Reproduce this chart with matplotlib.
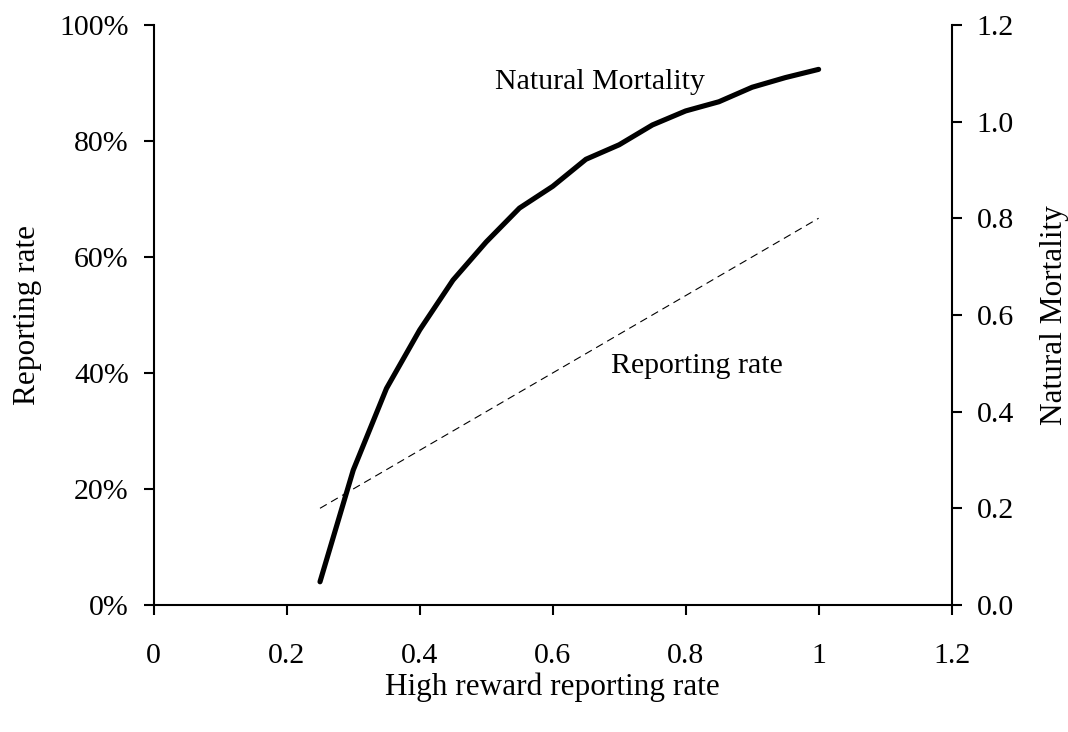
import matplotlib
matplotlib.use("Agg")
import matplotlib.pyplot as plt
from matplotlib.ticker import FuncFormatter

plt.rcParams["font.family"] = ["Liberation Serif", "DejaVu Serif"]

high_reward = [0.25, 0.30, 0.35, 0.40, 0.45, 0.50, 0.55, 0.60, 0.65,
               0.70, 0.75, 0.80, 0.85, 0.90, 0.95, 1.00]
natural_mortality = [0.048, 0.279, 0.448, 0.569, 0.672, 0.751, 0.821, 0.866, 0.922,
                     0.952, 0.993, 1.022, 1.041, 1.071, 1.091, 1.108]
reporting_rate = [0.1667, 0.2000, 0.2333, 0.2667, 0.3000, 0.3333, 0.3667, 0.4000, 0.4333,
                  0.4667, 0.5000, 0.5333, 0.5667, 0.6000, 0.6333, 0.6667]

x_ticks = [0, 0.2, 0.4, 0.6, 0.8, 1.0, 1.2]
x_labels = ["0", "0.2", "0.4", "0.6", "0.8", "1", "1.2"]

fig = plt.figure(figsize=(10.68, 7.32), dpi=100)
ax = fig.add_axes([0.144, 0.1735, 0.747, 0.7925])
ax2 = ax.twinx()

ax.plot(high_reward, reporting_rate, color="black", lw=0.8, ls=(0, (7, 4.5)))
ax2.plot(high_reward, natural_mortality, color="black", lw=3.7,
         solid_capstyle="round", solid_joinstyle="round")

ax.set_xlim(0, 1.2)
ax.set_ylim(0, 1.0)
ax2.set_ylim(0, 1.2)
ax.set_xticks(x_ticks)
ax.set_xticklabels(x_labels)
ax.set_yticks([0, 0.2, 0.4, 0.6, 0.8, 1.0])
ax.yaxis.set_major_formatter(FuncFormatter(lambda v, p: f"{v * 100:.0f}%"))
ax2.set_yticks([0, 0.2, 0.4, 0.6, 0.8, 1.0, 1.2])
ax2.yaxis.set_major_formatter(FuncFormatter(lambda v, p: f"{v:.1f}"))

for a in (ax, ax2):
    a.spines["top"].set_visible(False)
    for s in ("left", "right", "bottom"):
        a.spines[s].set_linewidth(1.5)
    a.tick_params(direction="out", length=7, width=1.5, labelsize=21.5)
ax.tick_params(axis="x", pad=20.5)
ax.tick_params(axis="y", pad=11)
ax2.tick_params(axis="y", pad=11)
ax.spines["right"].set_visible(False)
ax2.spines["left"].set_visible(False)
ax2.spines["bottom"].set_visible(False)

ax.set_xlabel("High reward reporting rate", fontsize=22.5)
ax.set_ylabel("Reporting rate", fontsize=22.5)
ax2.set_ylabel("Natural Mortality", fontsize=22.5)
ax.xaxis.set_label_coords(0.5, -0.117)
ax.yaxis.set_label_coords(-0.140, 0.5)
ax2.yaxis.set_label_coords(1.111, 0.5)

ax2.text(0.671, 1.082, "Natural Mortality", fontsize=21.5, ha="center", va="center")
ax.text(0.817, 0.412, "Reporting rate", fontsize=21.5, ha="center", va="center")

fig.savefig("out.png", dpi=100)
